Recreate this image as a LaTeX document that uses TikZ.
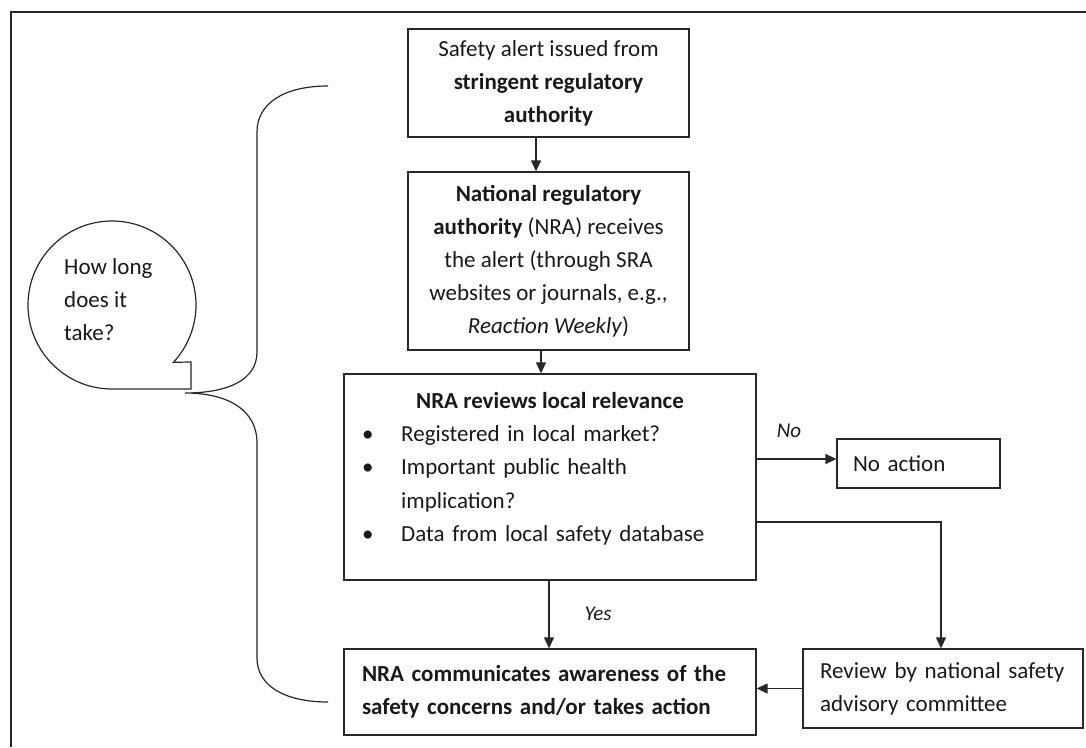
\documentclass[tikz,border=0pt]{standalone}
\usepackage{fontspec}
\setmainfont{Carlito}
\usetikzlibrary{arrows.meta}
\definecolor{linec}{RGB}{40,40,40}
\definecolor{txtc}{RGB}{25,25,25}
\tikzset{
  box/.style={draw=linec, line width=1.3pt, inner sep=0pt, text=txtc, font=\fontsize{23}{33}\selectfont},
  txt/.style={inner sep=0pt, text=txtc, font=\fontsize{23}{33}\selectfont},
  arr/.style={draw=linec, line width=1.3pt, -{Triangle[length=11pt,width=10pt]}},
  brace/.style={draw=linec, line width=1.2pt},
  lbl/.style={inner sep=0pt, text=txtc, font=\fontsize{21}{25}\selectfont\itshape}
}
\begin{document}
\begin{tikzpicture}[x=1pt,y=-1pt]
\useasboundingbox (0,0) rectangle (1086,747);
% outer frame (top and left edges)
\draw[line width=2.5pt, draw=black!85] (11,747) -- (11,12) -- (1086,12);

% boxes
\node[box, minimum width=281pt, minimum height=108pt, align=center] (alert) at (548.5,83)
  {Safety alert issued from\\\textbf{stringent regulatory}\\\textbf{authority}};
\node[box, minimum width=281pt, minimum height=178pt, align=center] (nra) at (548.5,261)
  {\textbf{National regulatory}\\\textbf{authority} (NRA) receives\\the alert (through SRA\\websites or journals, e.g.,\\\textit{Reaction Weekly})};
\node[box, minimum width=412pt, minimum height=206pt] (rev) at (550,477) {};
\node[txt, anchor=base] (revtitle) at (550,408) {\textbf{NRA reviews local relevance}};
\node[txt, anchor=base west, text width=376pt, align=left, font=\fontsize{23}{33.5}\selectfont] (revlist) at (362,441)
  {\makebox[39pt][l]{\textbullet}Registered in local market?\\
   \makebox[39pt][l]{\textbullet}Important public health\\
   \hspace*{39pt}implication?\\
   \makebox[39pt][l]{\textbullet}Data from local safety database};
\node[box, minimum height=86pt, text width=376pt, inner xsep=18pt, align=left] (comm) at (550,692)
  {\textbf{NRA communicates awareness of the}\\\textbf{safety concerns and/or takes action}};
\node[box, minimum height=49pt, text width=131pt, inner xsep=16pt, align=left] (noact) at (918.5,463.5)
  {No action};
\node[box, minimum height=79pt, text width=246pt, inner xsep=17pt, align=left] (panel) at (943,688.5)
  {Review by national safety\\advisory committee};

% connectors
\draw[arr] ([xshift=-12.5pt]alert.south) -- ([xshift=-12.5pt]nra.north);
\draw[arr] ([xshift=-7.5pt]nra.south) -- ([xshift=-7.5pt]nra.south |- rev.north);
\draw[arr] ([xshift=-1pt]rev.south) -- ([xshift=-1pt]rev.south |- comm.north);
\draw[arr] ([yshift=18pt]rev.east) -- ([yshift=18pt]rev.east -| noact.west);
\draw[arr] ([yshift=-45pt]rev.east) -| ([xshift=-2pt]panel.north);
\draw[arr] (panel.west) -- (panel.west -| comm.east);

\node[lbl] (nolbl) at (789,431) {No};
\node[lbl] (yeslbl) at (598,614) {Yes};

% brace
\draw[brace] (328,86) .. controls (283,86) and (257,104) .. (257,132)
  -- (257,352) .. controls (257,380) and (228,393) .. (185,393)
  .. controls (228,393) and (257,410) .. (257,443)
  -- (257,658) .. controls (257,686) and (285,702) .. (328,702);

% speech bubble
\draw[brace] (112,389) arc[start angle=90, end angle=403, radius=84] -- (191,362) -- (191,389) -- cycle;
\node[txt, anchor=west, align=left] (bubtxt) at (64,300) {How long\\does it\\take?};
\end{tikzpicture}
\end{document}
